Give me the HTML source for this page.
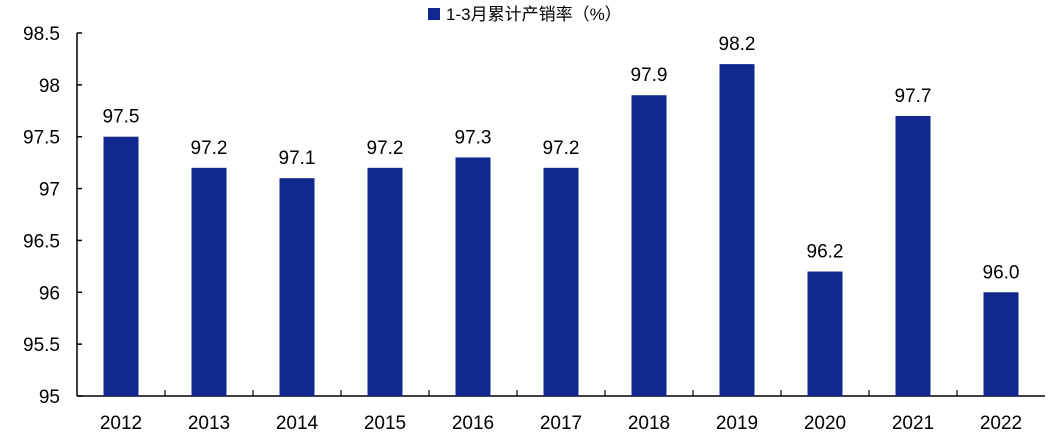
<!DOCTYPE html>
<html><head><meta charset="utf-8"><style>
body{margin:0;background:#fff;}
svg{display:block;font-family:"Liberation Sans","Noto Sans CJK SC",sans-serif;}
</style></head><body>
<svg width="1060" height="436" viewBox="0 0 1060 436">
<g id="legend">
<rect x="428" y="8" width="12" height="12" fill="#10288F"/>
<text x="446" y="20" font-size="17" fill="#000">1-3月累计产销率（%）</text>
</g>
<g id="axes"></g>
<g id="bars"></g>
</svg>
<script>
const categories=["2012","2013","2014","2015","2016","2017","2018","2019","2020","2021","2022"];
const values=[97.5,97.2,97.1,97.2,97.3,97.2,97.9,98.2,96.2,97.7,96.0];
const valueLabels=["97.5","97.2","97.1","97.2","97.3","97.2","97.9","98.2","96.2","97.7","96.0"];
const yTicks=[95,95.5,96,96.5,97,97.5,98,98.5];
const yTickLabels=["95","95.5","96","96.5","97","97.5","98","98.5"];
const NS="http://www.w3.org/2000/svg";
const x0=77,x1=1045,yTop=33,yBot=396,yMin=95,yMax=98.5;
const band=(x1-x0)/categories.length;
function y(v){return yBot-(v-yMin)/(yMax-yMin)*(yBot-yTop);}
function xc(i){return x0+band*(i+0.5);}
function mk(tag,attrs,parent){const e=document.createElementNS(NS,tag);for(const k in attrs)e.setAttribute(k,attrs[k]);parent.appendChild(e);return e;}
const ax=document.getElementById('axes'),bg=document.getElementById('bars');
yTicks.forEach((t,i)=>{
 const l=mk('line',{x1:x0,x2:x0+5,y1:y(t),y2:y(t),stroke:'#000','stroke-width':1.5},ax);
 
 
 const tx=mk('text',{x:60,y:y(t)+7,'font-size':19,'text-anchor':'end',fill:'#000'},ax);
 tx.textContent=yTickLabels[i];
 
 
});
categories.forEach((c,i)=>{
 if(i>0){const l=mk('line',{x1:x0+band*i,x2:x0+band*i,y1:yBot,y2:yBot-6,stroke:'#000','stroke-width':1.2},ax);
 
 }
 const tx=mk('text',{x:xc(i),y:yBot+33,'font-size':19,'text-anchor':'middle',fill:'#000'},ax);
 tx.textContent=c;
 
 
 const bw=35;
 const r=mk('rect',{x:xc(i)-bw/2,y:y(values[i]),width:bw,height:yBot-y(values[i]),fill:'#10288F'},bg);
 
 
 const vt=mk('text',{x:xc(i),y:y(values[i])-14,'font-size':19,'text-anchor':'middle',fill:'#000'},bg);
 vt.textContent=valueLabels[i];
 
 
});
const ya=mk('line',{x1:x0,x2:x0,y1:yTop,y2:yBot,stroke:'#000','stroke-width':1.5},ax);


const xa=mk('line',{x1:x0,x2:x1,y1:yBot,y2:yBot,stroke:'#000','stroke-width':1.5},ax);


</script>
</body></html>
